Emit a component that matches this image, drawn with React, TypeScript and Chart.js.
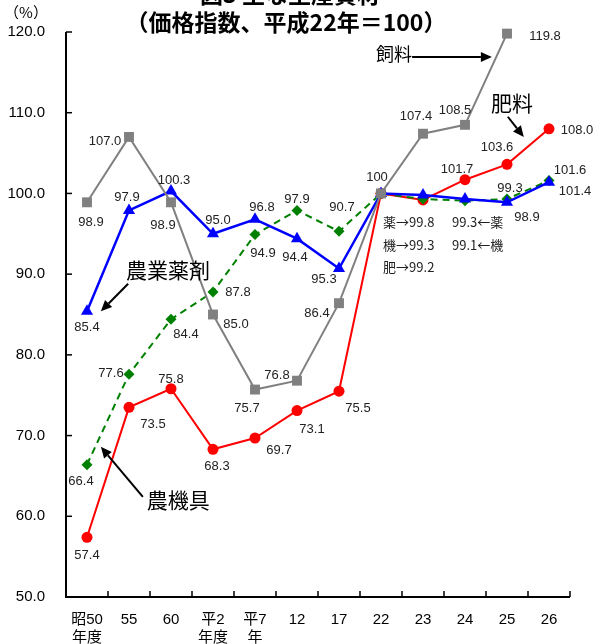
import { useEffect, useRef } from "react";
import { Chart, registerables } from "chart.js";
Chart.register(...registerables);

const categories: (string | string[])[] = [["昭50", "年度"], "55", "60", ["平2", "年度"], ["平7", "年"], "12", "17", "22", "23", "24", "25", "26"];
const feed = [98.9, 107.0, 98.9, 85.0, 75.7, 76.8, 86.4, 100, 107.4, 108.5, 119.8, null];
const chemicals = [85.4, 97.9, 100.3, 95.0, 96.8, 94.4, 90.7, 100, 99.8, 99.3, 98.9, 101.4];
const machinery = [66.4, 77.6, 84.4, 87.8, 94.9, 97.9, 95.3, 100, 99.3, 99.1, 99.3, 101.6];
const fertilizer = [57.4, 73.5, 75.8, 68.3, 69.7, 73.1, 75.5, 100, 99.2, 101.7, 103.6, 108.0];
const yMin = 50;
const yMax = 120;
const yStep = 10;

const titleLine1 = "図3 主な生産資材";
const titleLine2 = "（価格指数、平成22年＝100）";
const unitLabel = "（%）";
const notesLeft = ["薬→99.8", "機→99.3", "肥→99.2"];
const notesRight = ["99.3←薬", "99.1←機"];

// label offsets (px) relative to each point; null = no label
type Off = [number, number] | null;
const feedOff: Off[] = [[4, 20], [-24, 4], [-8, 23], [23, 10], [-8, 19], [-20, -5], [-22, 10], [-4, -16], [-7, -17], [-10, -14], [38, 3], null];
const chemOff: Off[] = [[0, 16], [-2, -13], [3, -11], [5, -13], [7, -12], [-2, 19], [3, -61], null, null, null, [20, 15], [26, 9]];
const machOff: Off[] = [[-6, 17], [-18, -1], [15, 15], [25, 1], [8, 19], [0, -11], [-15, 48], null, null, null, [3, -11], [21, -10]];
const fertOff: Off[] = [[0, 18], [24, 17], [0, -9], [4, 17], [24, 12], [15, 19], [19, 17], null, null, [-8, -10], [-10, -17], [28, 2]];

const NUM_FONT = '"Liberation Sans", Arial, sans-serif';
const JP_FONT = '"Noto Sans CJK JP", sans-serif';

export default function App() {
  const ref = useRef<HTMLCanvasElement | null>(null);
  useEffect(() => {
    document.body.style.margin = "0";
    const canvas = ref.current!;
    const offsets = [feedOff, chemOff, machOff, fertOff];

    const overlay = {
      id: "overlay",
      afterDraw(chart: any) {
        const ctx = chart.ctx as CanvasRenderingContext2D;
        const xs = chart.scales.x;
        const ys = chart.scales.y;
        const { left, right, top, bottom } = chart.chartArea;
        const px = (i: number) => xs.getPixelForValue(i);
        const py = (v: number) => ys.getPixelForValue(v);
        ctx.save();
        // axes
        ctx.strokeStyle = "#000";
        ctx.lineWidth = 2;
        ctx.beginPath();
        ctx.moveTo(left, top);
        ctx.lineTo(left, bottom);
        ctx.lineTo(right, bottom);
        ctx.stroke();
        ctx.lineWidth = 1.5;
        for (let v = yMin; v <= yMax; v += yStep) {
          const y = py(v);
          ctx.beginPath();
          ctx.moveTo(left, y);
          ctx.lineTo(left + 6, y);
          ctx.stroke();
        }
        for (let i = 1; i <= categories.length; i++) {
          const x = px(i - 0.5);
          ctx.beginPath();
          ctx.moveTo(x, bottom);
          ctx.lineTo(x, bottom - 6);
          ctx.stroke();
        }
        // data labels
        ctx.fillStyle = "#222";
        ctx.font = `13px ${NUM_FONT}`;
        ctx.textAlign = "center";
        ctx.textBaseline = "middle";
        chart.data.datasets.forEach((ds: any, d: number) => {
          const meta = chart.getDatasetMeta(d);
          ds.data.forEach((val: number | null, i: number) => {
            const off = offsets[d][i];
            if (val == null || !off) return;
            const el = meta.data[i];
            const txt = val === 100 ? "100" : val.toFixed(1);
            ctx.fillText(txt, el.x + off[0], el.y + off[1]);
          });
        });
        // notes
        ctx.font = `13px ${JP_FONT}`;
        ctx.textAlign = "left";
        notesLeft.forEach((t, k) => ctx.fillText(t, px(7.05), py(96.46 - k * 2.8)));
        notesRight.forEach((t, k) => ctx.fillText(t, px(8.69), py(96.46 - k * 2.8)));
        // titles
        ctx.fillStyle = "#000";
        ctx.textAlign = "center";
        ctx.font = `bold 23px ${JP_FONT}`;
        ctx.textBaseline = "alphabetic";
        ctx.fillText(titleLine1, 290, 3);
        ctx.fillText(titleLine2, 286, 31);
        ctx.font = `15px ${JP_FONT}`;
        ctx.textBaseline = "middle";
        ctx.fillText(unitLabel, 26, 12);
        // annotations
        const arrow = (i1: number, v1: number, i2: number, v2: number) => {
          const x1 = px(i1), y1 = py(v1), x2 = px(i2), y2 = py(v2);
          const a = Math.atan2(y2 - y1, x2 - x1);
          const hl = 11, hw = 5;
          const bx = x2 - hl * Math.cos(a), by = y2 - hl * Math.sin(a);
          ctx.strokeStyle = "#000";
          ctx.lineWidth = 2;
          ctx.beginPath();
          ctx.moveTo(x1, y1);
          ctx.lineTo(bx, by);
          ctx.stroke();
          ctx.fillStyle = "#000";
          ctx.beginPath();
          ctx.moveTo(x2, y2);
          ctx.lineTo(bx + hw * Math.sin(a), by - hw * Math.cos(a));
          ctx.lineTo(bx - hw * Math.sin(a), by + hw * Math.cos(a));
          ctx.closePath();
          ctx.fill();
        };
        ctx.fillStyle = "#000";
        ctx.font = `18px ${JP_FONT}`;
        ctx.fillText("飼料", px(7.31), py(117.3));
        arrow(7.74, 116.9, 9.64, 116.9);
        ctx.fillStyle = "#000";
        ctx.font = `21px ${JP_FONT}`;
        ctx.fillText("肥料", px(10.12), py(111.2));
        arrow(10.02, 109.5, 10.4, 107.0);
        ctx.fillStyle = "#000";
        ctx.font = `21px ${JP_FONT}`;
        ctx.fillText("農業薬剤", px(1.93), py(90.5));
        arrow(0.98, 88.8, 0.33, 85.4);
        ctx.fillStyle = "#000";
        ctx.font = `21px ${JP_FONT}`;
        ctx.fillText("農機具", px(2.17), py(62.0));
        arrow(1.33, 62.4, 0.33, 68.6);
        ctx.restore();
      },
    };

    const chart = new Chart(canvas, {
      type: "line",
      data: {
        labels: categories,
        datasets: [
          { label: "飼料", data: feed, borderColor: "#808080", backgroundColor: "#808080", borderWidth: 2, pointStyle: "rect", pointRadius: 7, pointBorderWidth: 0, clip: false } as any,
          { label: "農業薬剤", data: chemicals, borderColor: "#0000ff", backgroundColor: "#0000ff", borderWidth: 2.5, pointStyle: "triangle", pointRadius: 7, pointBorderWidth: 0, clip: false } as any,
          { label: "農機具", data: machinery, borderColor: "#008000", backgroundColor: "#008000", borderWidth: 2, borderDash: [7, 5], pointStyle: "rectRot", pointRadius: 5.5, pointBorderWidth: 0, clip: false } as any,
          { label: "肥料", data: fertilizer, borderColor: "#ff0000", backgroundColor: "#ff0000", borderWidth: 2, pointStyle: "circle", pointRadius: 5.5, pointBorderWidth: 0, clip: false } as any,
        ],
      },
      options: {
        responsive: false,
        animation: false,
        events: [],
        layout: { padding: { left: 0, top: 32, right: 23, bottom: 0 } },
        plugins: { legend: { display: false }, tooltip: { enabled: false }, title: { display: false } },
        scales: {
          x: {
            offset: true,
            grid: { display: false, drawTicks: false },
            border: { display: false },
            ticks: { color: "#000", font: { family: "Liberation Sans, Noto Sans CJK JP", size: 15 }, padding: 14, maxRotation: 0, autoSkip: false },
            afterFit: (s: any) => { s.height = 47; },
          },
          y: {
            min: yMin,
            max: yMax,
            grid: { display: false, drawTicks: false },
            border: { display: false },
            ticks: { stepSize: yStep, color: "#000", font: { family: "Liberation Sans", size: 15 }, padding: 21, callback: (v: any) => Number(v).toFixed(1) },
            afterFit: (s: any) => { s.width = 66; },
          },
        },
      },
      plugins: [overlay],
    } as any);
    return () => chart.destroy();
  }, []);
  return (
    <div style={{ position: "absolute", left: 0, top: 0, width: 593, height: 644 }}>
      <canvas ref={ref} width={593} height={644} style={{ display: "block" }} />
    </div>
  );
}
